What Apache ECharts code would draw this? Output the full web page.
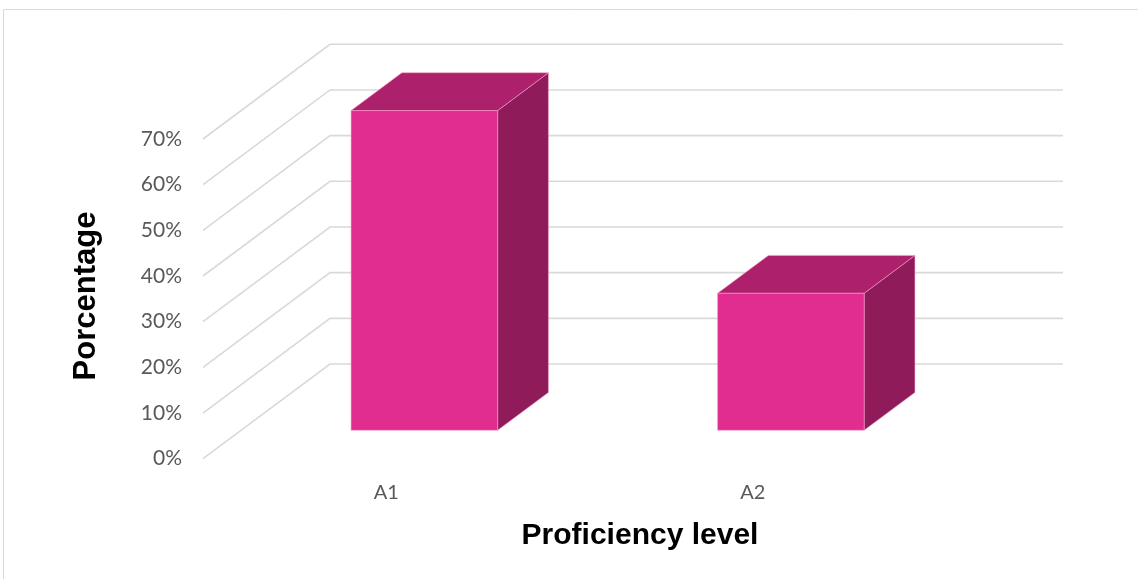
<!DOCTYPE html>
<html>
<head>
<meta charset="utf-8">
<script src="https://cdn.jsdelivr.net/npm/echarts@6/dist/echarts.min.js"></script>
<style>
  html, body { margin: 0; padding: 0; background: #fff; }
  #main { width: 1138px; height: 579px; }
</style>
</head>
<body>
<div id="main"></div>
<script>
var categories = ['A1', 'A2'];
var values = [0.70, 0.30];
var yTicks = [0, 0.1, 0.2, 0.3, 0.4, 0.5, 0.6, 0.7];

// fake 3d: offset from the front plane to the back wall
var DEPTH = [127, -94.7];
var BAR_FRONT = 0.3, BAR_BACK = 0.7;

var chart = echarts.init(document.getElementById('main'));

function wallItem(params, api) {
  var cs = params.coordSys;
  var y = api.coord([0, api.value(1)])[1];
  var x0 = cs.x, x1 = cs.x + cs.width;
  return {
    type: 'polyline',
    silent: true,
    shape: { points: [[x0, y], [x0 + DEPTH[0], y + DEPTH[1]], [x1 + DEPTH[0], y + DEPTH[1]]] },
    style: { stroke: '#d9d9d9', lineWidth: 1.6, fill: null }
  };
}

function barItem(params, api) {
  var base = api.coord([api.value(0), 0]);
  var top = api.coord([api.value(0), api.value(1)]);
  var w = api.size([1, 0])[0] * 0.4;
  var fx = DEPTH[0] * BAR_FRONT, fy = DEPTH[1] * BAR_FRONT;
  var dx = DEPTH[0] * (BAR_BACK - BAR_FRONT), dy = DEPTH[1] * (BAR_BACK - BAR_FRONT);
  var l = base[0] - w / 2 + fx, r = base[0] + w / 2 + fx;
  var yb = base[1] + fy, yt = top[1] + fy;
  var edge = 'rgba(250,160,205,0.7)';
  return {
    type: 'group',
    children: [
      { type: 'polygon', shape: { points: [[r, yt], [r + dx, yt + dy], [r + dx, yb + dy], [r, yb]] },
        style: { fill: '#8f1b5a', stroke: edge, lineWidth: 0.8 } },
      { type: 'polygon', shape: { points: [[l, yt], [l + dx, yt + dy], [r + dx, yt + dy], [r, yt]] },
        style: { fill: '#ad206c', stroke: edge, lineWidth: 0.8 } },
      { type: 'polygon', shape: { points: [[l, yt], [r, yt], [r, yb], [l, yb]] },
        style: { fill: '#e12d8f', stroke: edge, lineWidth: 0.8 } }
    ]
  };
}

chart.setOption({
  animation: false,
  grid: { left: 203, right: 202, top: 139, bottom: 120.3 },
  xAxis: {
    type: 'category',
    data: categories,
    axisLine: { show: false },
    axisTick: { show: false },
    axisLabel: { color: '#595959', fontSize: 20, fontFamily: 'Lato', margin: 24 }
  },
  yAxis: {
    type: 'value',
    min: 0,
    max: 0.7,
    interval: 0.1,
    axisLine: { show: false },
    axisTick: { show: false },
    splitLine: { show: false },
    axisLabel: {
      color: '#595959', fontSize: 21, fontFamily: 'Lato', margin: 21,
      padding: [12, 0, 0, 0],
      formatter: function (v) { return Math.round(v * 100) + '%'; }
    }
  },
  graphic: [
    { type: 'rect', silent: true, shape: { x: 3.5, y: 9.5, width: 1200, height: 700 },
      style: { fill: null, stroke: '#d9d9d9', lineWidth: 1 } },
    { type: 'text', x: 640, y: 536,
      style: { text: 'Proficiency level', font: 'bold 30px "Liberation Sans", Arial', fill: '#000',
               textAlign: 'center', textVerticalAlign: 'middle' } },
    { type: 'text', x: 86, y: 296, rotation: Math.PI / 2,
      style: { text: 'Porcentage', font: 'bold 31px "Liberation Sans", Arial', fill: '#000',
               textAlign: 'center', textVerticalAlign: 'middle' } }
  ],
  series: [
    {
      type: 'custom',
      renderItem: wallItem,
      encode: { x: 0, y: 1 },
      data: yTicks.map(function (v) { return [0, v]; }),
      z: 1
    },
    {
      type: 'custom',
      renderItem: barItem,
      encode: { x: 0, y: 1 },
      data: values.map(function (v, i) { return [i, v]; }),
      z: 2
    }
  ]
});
</script>
</body>
</html>
